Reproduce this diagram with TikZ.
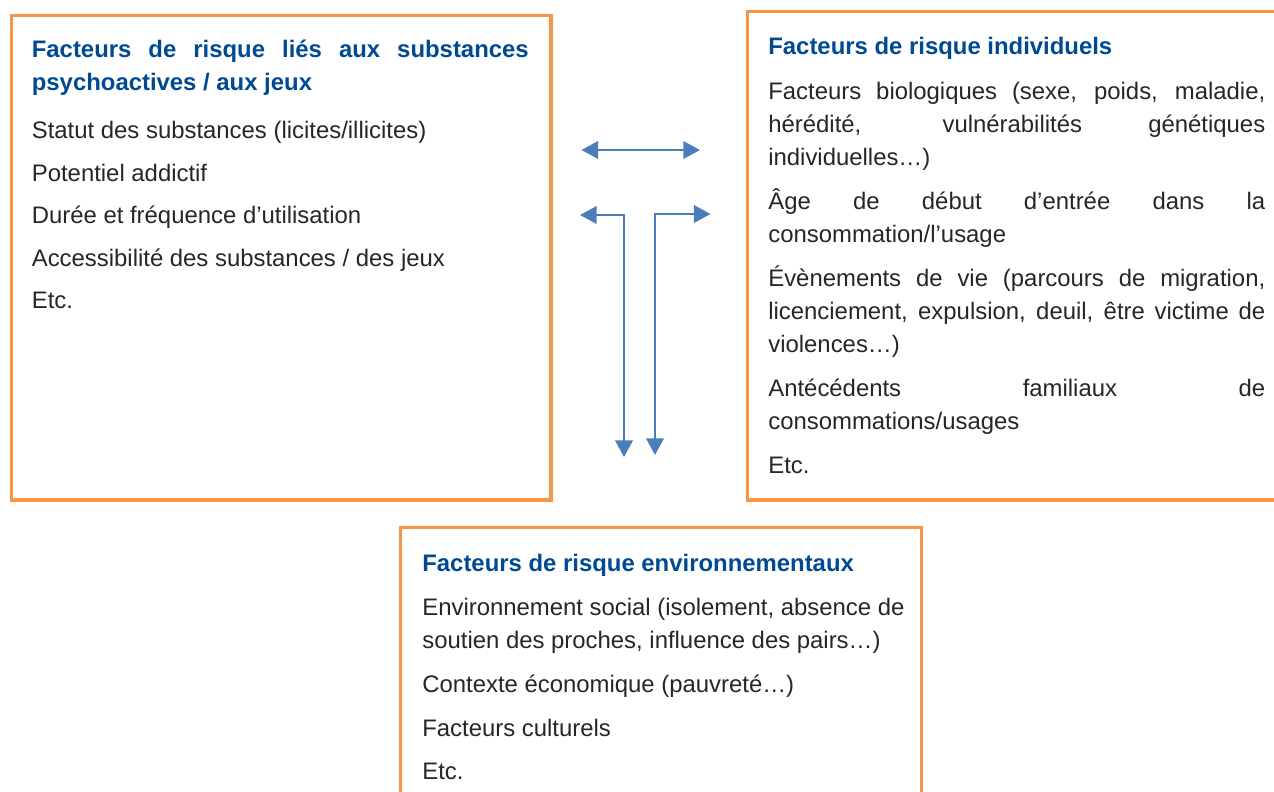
\documentclass[tikz,border=0pt]{standalone}
\usepackage{fontspec}
\setmainfont{Liberation Sans}
\usetikzlibrary{arrows.meta}

\definecolor{cadreorange}{HTML}{F79646}
\definecolor{flechebleu}{HTML}{4A7EBB}
\definecolor{titrebleu}{HTML}{004A93}
\definecolor{textegris}{HTML}{262626}

% justified line, as wide as the text column
\newcommand{\ligne}[1]{\makebox[9.94cm][s]{#1}}

\begin{document}
\begin{tikzpicture}[x=0.02cm, y=-0.02cm,
        every node/.style={inner sep=0pt, anchor=base west, text=textegris, font=\fontsize{13.6}{16}\selectfont},
        cadre/.style={draw=cadreorange, line width=1.8pt, anchor=north west, minimum width=10.8cm},
        titre/.style={text=titrebleu, font=\fontsize{13.6}{16}\selectfont\bfseries},
        fleche/.style={draw=flechebleu, line width=1.25pt, {Triangle[length=9.5pt, width=10pt]}-{Triangle[length=9.5pt, width=10pt]}}]

        \useasboundingbox (0,0) rectangle (1274,791);
        \clip (0,0) rectangle (1274,791);

        % Boxes
        \node[cadre, minimum height=9.7cm] (substances) at (9.5,13.5) {};
        \node[cadre, minimum height=9.78cm] (individuels) at (745.5,9.5) {};
        \node[cadre, minimum width=10.43cm, minimum height=6cm] (environnement) at (398.5,525.5) {};

        % Substances / jeux
        \node[titre] (s0) at (31.5,57.5) {\ligne{Facteurs de risque liés aux substances}};
        \node[titre] (s00) at (31.5,90.5) {psychoactives / aux jeux};
        \foreach \y/\t [count=\i] in {138/{Statut des substances (licites/illicites)}, 181/{Potentiel addictif}, 223/{Durée et fréquence d’utilisation}, 266/{Accessibilité des substances / des jeux}, 308/{Etc.}} {
            \node (s\i) at (31.5,\y) {\t};
        }

        % Individuels
        \node[titre] (i0) at (768,54) {Facteurs de risque individuels};
        \node (i1) at (768,99.5) {\ligne{Facteurs biologiques (sexe, poids, maladie,}};
        \node (i2) at (768,132.5) {\ligne{hérédité, vulnérabilités génétiques}};
        \node (i3) at (768,165.5) {individuelles…)};
        \node (i4) at (768,209) {\ligne{Âge de début d’entrée dans la}};
        \node (i5) at (768,242) {consommation/l’usage};
        \node (i6) at (768,286) {\ligne{Évènements de vie (parcours de migration,}};
        \node (i7) at (768,319) {\ligne{licenciement, expulsion, deuil, être victime de}};
        \node (i8) at (768,352) {violences…)};
        \node (i9) at (768,396) {\ligne{Antécédents familiaux de}};
        \node (i10) at (768,429) {consommations/usages};
        \node (i11) at (768,473) {Etc.};

        % Environnementaux
        \node[titre] (e0) at (422,571) {Facteurs de risque environnementaux};
        \node (e1) at (422,615) {Environnement social (isolement, absence de};
        \node (e2) at (422,648) {soutien des proches, influence des pairs…)};
        \node (e3) at (422,692) {Contexte économique (pauvreté…)};
        \node (e4) at (422,736) {Facteurs culturels};
        \node (e5) at (422,779) {Etc.};

        % Arrows
        \coordinate (h1) at (581.5,150);
        \coordinate (h2) at (700,150);
        \coordinate (g1) at (580,215);
        \coordinate (g2) at (624,457);
        \coordinate (d1) at (710.5,214);
        \coordinate (d2) at (655,455);
        \draw[fleche] (h1) -- (h2);
        \draw[fleche] (g1) -| (g2);
        \draw[fleche] (d1) -| (d2);
    \end{tikzpicture}
\end{document}
